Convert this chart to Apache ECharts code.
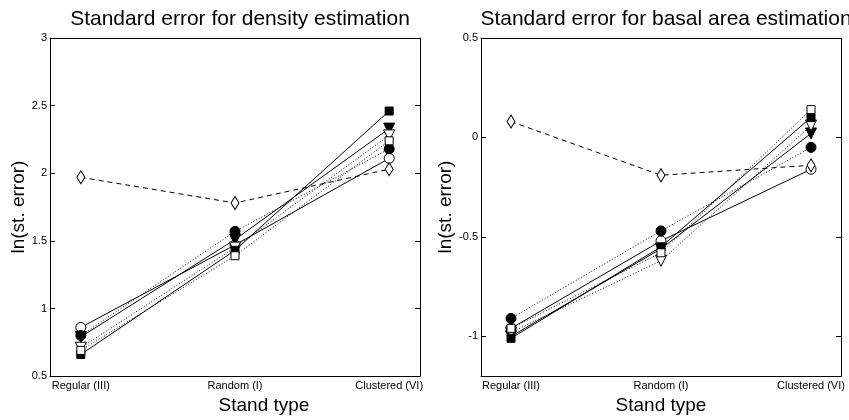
<!DOCTYPE html>
<html><head><meta charset="utf-8">
<script src="https://cdn.jsdelivr.net/npm/echarts@6/dist/echarts.min.js"></script>
<style>html,body{margin:0;padding:0;background:#fff}#c{width:849px;height:420px}</style>
</head><body><div id="c"></div>
<script>
// ---- data ----
const categories = ['Regular (III)', 'Random (I)', 'Clustered (VI)'];
const xPositions = [1, 2, 3];

// left: density (ln st. error)
const densOpenCircle   = [0.86, 1.47, 2.11];
const densFilledCircle = [0.80, 1.57, 2.18];
const densFilledTri    = [0.79, 1.51, 2.33];
const densOpenTri      = [0.71, 1.45, 2.28];
const densFilledSquare = [0.66, 1.43, 2.46];
const densOpenSquare   = [0.69, 1.39, 2.24];
const densDiamond      = [1.97, 1.78, 2.03];
const densTicks = [0.5, 1, 1.5, 2, 2.5, 3];

// right: basal area (ln st. error)
const baOpenCircle   = [-0.96, -0.52, -0.16];
const baFilledCircle = [-0.91, -0.47, -0.05];
const baFilledTri    = [-1.00, -0.56, 0.02];
const baOpenTri      = [-0.98, -0.62, 0.06];
const baFilledSquare = [-1.01, -0.55, 0.10];
const baOpenSquare   = [-0.96, -0.58, 0.14];
const baDiamond      = [0.08, -0.19, -0.14];
const baTicks = [-1, -0.5, 0, 0.5];

const titles = ['Standard error for density estimation', 'Standard error for basal area estimation'];
const yName = 'ln(st. error)';
const xName = 'Stand type';

// ---- styles ----
const FONT = 'Liberation Sans, Arial, Helvetica, sans-serif';
const styles = [
  {key: 'OpenCircle',   symbol: 'circle', size: 10, fill: '#fff', line: 'solid', rot: 0},
  {key: 'FilledCircle', symbol: 'circle', size: 10, fill: '#000', line: [1, 2], rot: 0},
  {key: 'FilledTri',    symbol: 'triangle', size: 11, fill: '#000', line: 'solid', rot: 180},
  {key: 'OpenTri',      symbol: 'triangle', size: 11, fill: '#fff', line: [1, 2], rot: 180},
  {key: 'FilledSquare', symbol: 'rect', size: 8, fill: '#000', line: 'solid', rot: 0},
  {key: 'OpenSquare',   symbol: 'rect', size: 8, fill: '#fff', line: [1, 2], rot: 0},
  {key: 'Diamond',      symbol: 'diamond', size: [8, 13], fill: '#fff', line: [5, 4], rot: 0}
];
const panelData = [
  {OpenCircle: densOpenCircle, FilledCircle: densFilledCircle, FilledTri: densFilledTri, OpenTri: densOpenTri,
   FilledSquare: densFilledSquare, OpenSquare: densOpenSquare, Diamond: densDiamond},
  {OpenCircle: baOpenCircle, FilledCircle: baFilledCircle, FilledTri: baFilledTri, OpenTri: baOpenTri,
   FilledSquare: baFilledSquare, OpenSquare: baOpenSquare, Diamond: baDiamond}
];

const grids = [
  {left: 50, top: 38, width: 370, height: 340},
  {left: 481, top: 38, width: 360, height: 340}
];
const yRanges = [[0.5, 3], [-1.2, 0.5]];
const yTickVals = [densTicks, baTicks];

const xAxes = [], yAxes = [], series = [], titleComps = [];
grids.forEach((g, i) => {
  titleComps.push({
    text: titles[i], left: g.left + g.width / 2, top: 4, textAlign: 'center',
    textStyle: {fontFamily: FONT, fontSize: 21, fontWeight: 'normal', color: '#000'}
  });
  xAxes.push({
    type: 'value', gridIndex: i, min: 0.8, max: 3.2, position: 'bottom',
    name: xName, nameLocation: 'middle', nameGap: 15,
    nameTextStyle: {fontFamily: FONT, fontSize: 19, color: '#000', padding: i === 0 ? [0, 0, 0, 58] : 0},
    axisLine: {show: true, onZero: false, lineStyle: {color: '#000', width: 1}},
    axisTick: {show: false},
    splitLine: {show: false},
    axisLabel: {customValues: xPositions, formatter: v => categories[Math.round(v) - 1] || '',
      fontFamily: FONT, fontSize: 11, color: '#000', margin: 4}
  });
  xAxes.push({
    type: 'value', gridIndex: i, min: 0.8, max: 3.2, position: 'top',
    axisLine: {show: true, onZero: false, lineStyle: {color: '#000', width: 1}},
    axisTick: {show: false}, axisLabel: {show: false}, splitLine: {show: false}
  });
  const tickCfg = {show: true, inside: true, length: 5, customValues: yTickVals[i], lineStyle: {color: '#000'}};
  yAxes.push({
    type: 'value', gridIndex: i, min: yRanges[i][0], max: yRanges[i][1], position: 'left',
    name: yName, nameLocation: 'middle', nameGap: 20, nameRotate: 90,
    nameTextStyle: {fontFamily: FONT, fontSize: 19, color: '#000'},
    axisLine: {show: true, onZero: false, lineStyle: {color: '#000', width: 1}},
    axisTick: tickCfg, splitLine: {show: false},
    axisLabel: {customValues: yTickVals[i], fontFamily: FONT, fontSize: 11, color: '#000', margin: 3,
      formatter: v => String(Math.round(v * 10) / 10)}
  });
  yAxes.push({
    type: 'value', gridIndex: i, min: yRanges[i][0], max: yRanges[i][1], position: 'right',
    axisLine: {show: true, onZero: false, lineStyle: {color: '#000', width: 1}},
    axisTick: tickCfg, splitLine: {show: false}, axisLabel: {show: false}
  });
  styles.forEach(s => {
    const vals = panelData[i][s.key];
    series.push({
      type: 'line', xAxisIndex: i * 2, yAxisIndex: i * 2,
      data: xPositions.map((x, k) => [x, vals[k]]),
      symbol: s.symbol, symbolSize: s.size, symbolRotate: s.rot, showSymbol: true,
      itemStyle: {color: s.fill, borderColor: '#000', borderWidth: 1},
      lineStyle: {color: '#000', width: 1, type: s.line},
      z: s.key === 'Diamond' ? 3 : 2,
      animation: false
    });
  });
});

const chart = echarts.init(document.getElementById('c'), null, {renderer: 'canvas'});
chart.setOption({
  backgroundColor: '#fff',
  animation: false,
  title: titleComps,
  grid: grids,
  xAxis: xAxes,
  yAxis: yAxes,
  series: series
});
</script>
</body></html>
